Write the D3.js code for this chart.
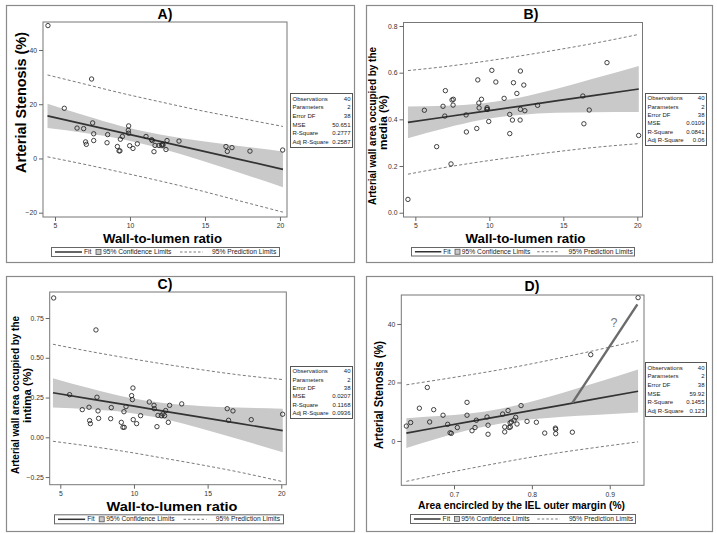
<!DOCTYPE html>
<html><head><meta charset="utf-8">
<script src="https://cdn.jsdelivr.net/npm/d3@7"></script>
<style>body{margin:0;background:#fff} svg{display:block}</style>
</head><body>
<svg id="c" width="717" height="533"></svg>
<script>
// ---------- Panel A data ----------
const wlA = [4.53,7.44,5.62,6.47,6.91,7.51,7.04,7.09,7.58,7.58,8.47,8.51,9.16,9.27,9.33,9.36,9.49,9.91,9.89,9.91,9.98,10.2,10.49,11.07,11.44,11.49,11.6,11.67,11.93,12.11,12.2,12.18,12.4,12.47,13.27,16.4,16.49,16.8,18.0,20.18];
const stenosisA = [49.0,29.3,18.5,11.2,11.0,13.1,6.1,5.2,9.1,6.6,5.8,8.8,4.4,2.8,2.8,7.1,8.1,12.0,10.4,9.3,4.7,3.7,5.4,8.1,6.9,6.6,2.5,4.8,4.8,4.9,4.9,5.3,3.3,6.6,6.4,4.4,2.6,4.0,2.7,3.1];
const bandXA = [4.5,7,9.5,12,14.5,17,20.2];
const fitA = [15.7,12.57,9.43,6.29,3.15,0.02,-4.0];
const clLoA = [11.2,9.4,7.1,3.8,-0.3,-4.7,-10.6];
const clHiA = [20.2,15.8,11.8,8.8,6.6,4.8,2.6];
const plLoA = [0.6,-2.2,-5.2,-8.3,-11.6,-15.2,-19.8];
const plHiA = [30.8,27.4,24.0,20.9,17.9,15.2,11.8];
const xTicksA = [5,10,15,20];
const yTicksA = [-20,0,20,40];
const statsA = ["40","2","38","50.651","0.2777","0.2587"];

// ---------- Panel B data ----------
const wlB = [4.50,5.61,6.44,7.03,6.87,6.99,7.41,7.48,7.57,7.55,8.43,8.45,9.15,9.22,9.29,9.31,9.47,9.85,9.87,9.83,9.96,10.17,10.44,11.0,11.38,11.38,11.56,11.63,11.86,12.1,12.1,12.08,12.33,12.4,13.26,16.32,16.39,16.75,17.95,20.09];
const mediaB = [0.057,0.439,0.283,0.523,0.456,0.414,0.209,0.483,0.486,0.461,0.419,0.346,0.361,0.569,0.470,0.449,0.486,0.450,0.443,0.443,0.391,0.610,0.560,0.490,0.421,0.339,0.397,0.557,0.511,0.607,0.443,0.397,0.547,0.437,0.460,0.500,0.381,0.440,0.643,0.331];
const bandXB = [4.5,7,9.5,12,14.5,17,20.1];
const fitB = [0.387,0.410,0.433,0.456,0.479,0.502,0.530];
const clLoB = [0.319,0.362,0.398,0.419,0.428,0.430,0.431];
const clHiB = [0.455,0.458,0.468,0.493,0.530,0.574,0.629];
const plLoB = [0.165,0.194,0.219,0.241,0.261,0.279,0.296];
const plHiB = [0.609,0.626,0.647,0.671,0.697,0.725,0.764];
const xTicksB = [5,10,15,20];
const yTicksB = [0.0,0.2,0.4,0.6,0.8];
const statsB = ["40","2","38","0.0109","0.0841","0.06"];

// ---------- Panel C data ----------
const wlC = [4.55,7.42,5.63,6.49,6.95,6.99,7.04,7.49,7.56,7.60,8.42,8.46,9.14,9.25,9.34,9.32,9.46,9.93,9.84,9.89,9.95,10.18,10.45,11.04,11.36,11.38,11.56,11.63,11.86,11.97,12.08,12.15,12.33,12.42,13.24,16.33,16.42,16.72,17.96,20.09];
const intimaC = [0.876,0.675,0.268,0.174,0.189,0.105,0.086,0.252,0.166,0.119,0.117,0.187,0.094,0.063,0.063,0.161,0.193,0.310,0.262,0.237,0.111,0.086,0.136,0.222,0.201,0.180,0.067,0.138,0.136,0.147,0.136,0.168,0.094,0.201,0.210,0.180,0.107,0.166,0.111,0.145];
const bandXC = [4.5,7,9.5,12,14.5,17,20.1];
const fitC = [0.280,0.242,0.204,0.165,0.127,0.089,0.042];
const clLoC = [0.188,0.176,0.156,0.115,0.057,-0.009,-0.094];
const clHiC = [0.372,0.308,0.252,0.215,0.197,0.187,0.180];
const plLoC = [-0.025,-0.056,-0.091,-0.131,-0.172,-0.216,-0.279];
const plHiC = [0.585,0.540,0.499,0.461,0.426,0.394,0.363];
const xTicksC = [5,10,15,20];
const yTicksC = [-0.25,0.00,0.25,0.50,0.75];
const statsC = ["40","2","38","0.0207","0.1168","0.0936"];

// ---------- Panel D data ----------
const ielD = [0.9364,0.8756,0.6657,0.6388,0.6443,0.6555,0.6687,0.6739,0.6859,0.6919,0.6949,0.6966,0.7043,0.7167,0.7167,0.7231,0.727,0.7287,0.7424,0.7437,0.7437,0.7625,0.7651,0.7651,0.7694,0.7707,0.7724,0.7737,0.7771,0.7792,0.7809,0.7861,0.7938,0.8058,0.8165,0.8302,0.8306,0.8306,0.852,0.772];
const stenosisD = [49.0,29.5,18.3,5.1,6.3,11.2,6.5,10.7,8.8,5.7,2.8,2.6,4.6,13.2,8.8,3.5,4.6,7.1,8.2,5.4,2.3,9.2,3.1,4.8,10.4,4.6,4.8,6.5,7.1,8.1,5.8,12.1,6.7,6.4,2.7,4.4,4.0,2.5,3.0,6.2];
const bandXD = [0.6388,0.68,0.72,0.76,0.80,0.84,0.88,0.9364];
const fitD = [2.70,4.68,6.60,8.52,10.45,12.37,14.29,17.0];
const clLoD = [-2.4,0.9,3.8,6.0,7.4,8.3,8.9,9.7];
const clHiD = [7.8,8.5,9.4,11.0,13.5,16.5,19.7,24.4];
const plLoD = [-13.8,-11.5,-9.4,-7.4,-5.5,-3.8,-2.3,-0.3];
const plHiD = [19.2,20.9,22.6,24.4,26.4,28.6,30.9,34.3];
const xTicksD = [0.7,0.8,0.9];
const yTicksD = [0,20,40];
const statsD = ["40","2","38","59.92","0.1455","0.123"];
const annoXD = [0.852,0.9355];
const annoYD = [13.0,46.7];
const annoTextD = "?";

const statLabels = ["Observations","Parameters","Error DF","MSE","R-Square","Adj R-Square"];
const legendLabels = ["Fit","95% Confidence Limits","95% Prediction Limits"];

const FONT = "Arial, 'Liberation Sans', Helvetica, sans-serif";
const svg = d3.select("#c");
svg.append("rect").attr("width",717).attr("height",533).attr("fill","#fff");

function zipBand(xs, fit, lo, hi, plo, phi){
  return xs.map((x,i)=>({x, fit:fit[i], lo:lo[i], hi:hi[i], plo:plo[i], phi:phi[i]}));
}

const panels = [
 {id:"A", title:"A)", titleX:165, titleY:18.5,
  border:[6,5,348,257], plot:[43,22,244,195], xd:[4.2,20.47], yd:[-21.59,50.32],
  xs:wlA, ys:stenosisA, band:zipBand(bandXA,fitA,clLoA,clHiA,plLoA,plHiA),
  xt:xTicksA, yt:yTicksA, xf:d3.format("d"), yf:d3.format("d"),
  xlab:{t:"Wall-to-lumen ratio", cx:162.5, y:242.5, fs:13.5, len:119},
  ylab:[{t:"Arterial Stenosis (%)", x:26, cy:102.5, fs:14.5, len:141}],
  stats:statsA, sbox:[290,93,62,54], legend:[51,247,228,9]},
 {id:"B", title:"B)", titleX:531, titleY:18.5,
  border:[366,5,346,257], plot:[403.5,22.5,239,194.5], xd:[4.2,20.35], yd:[-0.0184,0.815],
  xs:wlB, ys:mediaB, band:zipBand(bandXB,fitB,clLoB,clHiB,plLoB,plHiB),
  xt:xTicksB, yt:yTicksB, xf:d3.format("d"), yf:d3.format(".1f"),
  xlab:{t:"Wall-to-lumen ratio", cx:525.5, y:242.5, fs:13.5, len:120},
  ylab:[{t:"Arterial wall  area occupied by the", x:375.5, cy:126, fs:10.5, len:158},
        {t:"media (%)", x:387, cy:122.5, fs:10.5, len:55}],
  stats:statsB, sbox:[645,93,61,52], legend:[411,247,223,8.5]},
 {id:"C", title:"C)", titleX:165, titleY:289,
  border:[6,276,348,255], plot:[49.7,292,236.6,192.7], xd:[4.28,20.34], yd:[-0.298,0.9135],
  xs:wlC, ys:intimaC, band:zipBand(bandXC,fitC,clLoC,clHiC,plLoC,plHiC),
  xt:xTicksC, yt:yTicksC, xf:d3.format("d"), yf:d3.format(".2f"),
  xlab:{t:"Wall-to-lumen ratio", cx:172, y:511, fs:13.5, len:131},
  ylab:[{t:"Arterial wall  area occupied by the", x:19, cy:395, fs:10.5, len:158},
        {t:"intima (%)", x:30.5, cy:395.5, fs:10.5, len:55}],
  stats:statsC, sbox:[290,366,62,52], legend:[54,514.3,229,9]},
 {id:"D", title:"D)", titleX:532, titleY:291,
  border:[366,276,346,255], plot:[401.3,295,242.7,190.3], xd:[0.6323,0.944], yd:[-15.15,49.9],
  xs:ielD, ys:stenosisD, band:zipBand(bandXD,fitD,clLoD,clHiD,plLoD,plHiD),
  xt:xTicksD, yt:yTicksD, xf:d3.format(".1f"), yf:d3.format("d"),
  xlab:{t:"Area encircled by the IEL outer margin (%)", cx:521.5, y:509, fs:11, len:207},
  ylab:[{t:"Arterial Stenosis (%)", x:383, cy:395, fs:12, len:108}],
  stats:statsD, sbox:[645,362,61,54], legend:[410,514,225,9],
  anno:{xs:annoXD, ys:annoYD, t:annoTextD, tx:0.9056, ty:39.0}}
];

panels.forEach(p=>{
  const g = svg.append("g");
  const [bx,by,bw,bh] = p.border;
  g.append("rect").attr("x",bx+0.5).attr("y",by+0.5).attr("width",bw).attr("height",bh)
   .attr("fill","none").attr("stroke","#8a8a8a").attr("stroke-width",1.2);

  g.append("text").attr("x",p.titleX).attr("y",p.titleY).attr("text-anchor","middle")
   .attr("font-family",FONT).attr("font-weight","bold").attr("font-size",14).attr("fill","#000").text(p.title);

  const [px,py,pw,ph] = p.plot;
  const x = d3.scaleLinear().domain(p.xd).range([px,px+pw]);
  const y = d3.scaleLinear().domain(p.yd).range([py+ph,py]);

  const clipId = "clip"+p.id;
  svg.append("clipPath").attr("id",clipId).append("rect").attr("x",px).attr("y",py).attr("width",pw).attr("height",ph);
  const pg = g.append("g").attr("clip-path",`url(#${clipId})`);

  // CI band
  pg.append("path").datum(p.band)
    .attr("d", d3.area().x(d=>x(d.x)).y0(d=>y(d.lo)).y1(d=>y(d.hi)).curve(d3.curveMonotoneX))
    .attr("fill","#c9c9c9").attr("stroke","none");
  // Prediction limits
  ["plo","phi"].forEach(k=>{
    pg.append("path").datum(p.band)
      .attr("d", d3.line().x(d=>x(d.x)).y(d=>y(d[k])).curve(d3.curveMonotoneX))
      .attr("fill","none").attr("stroke","#7a7a7a").attr("stroke-width",1).attr("stroke-dasharray","3,2.2");
  });
  // Fit
  pg.append("path").datum(p.band)
    .attr("d", d3.line().x(d=>x(d.x)).y(d=>y(d.fit)))
    .attr("fill","none").attr("stroke","#333").attr("stroke-width",1.7);

  // annotation (D)
  if (p.anno){
    pg.append("path").datum(p.anno.xs.map((v,i)=>[v,p.anno.ys[i]]))
      .attr("d", d3.line().x(d=>x(d[0])).y(d=>y(d[1])))
      .attr("fill","none").attr("stroke","#6b6b6b").attr("stroke-width",2.4);
    g.append("text").attr("x",x(p.anno.tx)).attr("y",y(p.anno.ty)).attr("text-anchor","middle")
      .attr("font-family",FONT).attr("font-size",12.5).attr("fill","#777").text(p.anno.t);
  }

  // points
  pg.selectAll("circle.pt").data(p.xs.map((v,i)=>[v,p.ys[i]])).enter().append("circle")
    .attr("cx",d=>x(d[0])).attr("cy",d=>y(d[1])).attr("r",2.2)
    .attr("fill","none").attr("stroke","#222").attr("stroke-width",0.85);

  // frame
  g.append("rect").attr("x",px).attr("y",py).attr("width",pw).attr("height",ph)
   .attr("fill","none").attr("stroke","#777").attr("stroke-width",1);

  // axes
  const ax = g.append("g").attr("transform",`translate(0,${py+ph})`)
    .call(d3.axisBottom(x).tickValues(p.xt).tickFormat(p.xf).tickSize(4).tickSizeOuter(0).tickPadding(2.5));
  const ay = g.append("g").attr("transform",`translate(${px},0)`)
    .call(d3.axisLeft(y).tickValues(p.yt).tickFormat(p.yf).tickSize(4).tickSizeOuter(0).tickPadding(2));
  [ax,ay].forEach(a=>{
    a.select(".domain").remove();
    a.selectAll("line").attr("stroke","#666");
    a.selectAll("text").attr("font-family",FONT).attr("font-size",6.8).attr("fill","#333");
  });

  // axis labels
  g.append("text").attr("x",p.xlab.cx).attr("y",p.xlab.y).attr("text-anchor","middle")
    .attr("font-family",FONT).attr("font-weight","bold").attr("font-size",p.xlab.fs).attr("fill","#000")
    .attr("textLength",p.xlab.len).attr("lengthAdjust","spacingAndGlyphs").text(p.xlab.t);
  p.ylab.forEach(l=>{
    g.append("text").attr("transform",`translate(${l.x},${l.cy}) rotate(-90)`).attr("text-anchor","middle")
      .attr("font-family",FONT).attr("font-weight","bold").attr("font-size",l.fs).attr("fill","#000")
      .attr("textLength",l.len).attr("lengthAdjust","spacingAndGlyphs").text(l.t);
  });

  // stats box
  const [sx,sy,sw,sh] = p.sbox;
  g.append("rect").attr("x",sx+0.5).attr("y",sy+0.5).attr("width",sw).attr("height",sh)
    .attr("fill","#fff").attr("stroke","#555").attr("stroke-width",1);
  const rowH = (sh-2)/6;
  statLabels.forEach((lab,i)=>{
    const ty = sy + 1 + rowH*(i+0.5) + 2.2;
    g.append("text").attr("x",sx+2.5).attr("y",ty).attr("font-family",FONT).attr("font-size",6)
      .attr("fill","#222").text(lab);
    g.append("text").attr("x",sx+sw-1.5).attr("y",ty).attr("text-anchor","end").attr("font-family",FONT).attr("font-size",6)
      .attr("fill","#222").text(p.stats[i]);
  });

  // legend
  const [lx,ly,lw,lh] = p.legend;
  const s = lw/228, cy = ly + lh/2;
  g.append("rect").attr("x",lx+0.5).attr("y",ly+0.5).attr("width",lw).attr("height",lh)
    .attr("fill","#fff").attr("stroke","#666").attr("stroke-width",1);
  g.append("line").attr("x1",lx+4*s).attr("x2",lx+31*s).attr("y1",cy+0.5).attr("y2",cy+0.5)
    .attr("stroke","#333").attr("stroke-width",1.5);
  g.append("rect").attr("x",lx+45*s).attr("y",cy-2).attr("width",5).attr("height",5)
    .attr("fill","#c9c9c9").attr("stroke","#555").attr("stroke-width",0.8);
  g.append("line").attr("x1",lx+129*s).attr("x2",lx+152*s).attr("y1",cy+0.5).attr("y2",cy+0.5)
    .attr("stroke","#7a7a7a").attr("stroke-width",1).attr("stroke-dasharray","2.5,2");
  [[33,legendLabels[0]],[52,legendLabels[1]],[161,legendLabels[2]]].forEach(([off,t])=>{
    g.append("text").attr("x",lx+off*s).attr("y",cy+2.4).attr("font-family",FONT).attr("font-size",6.7)
      .attr("fill","#222").text(t);
  });
});
</script>
</body></html>
